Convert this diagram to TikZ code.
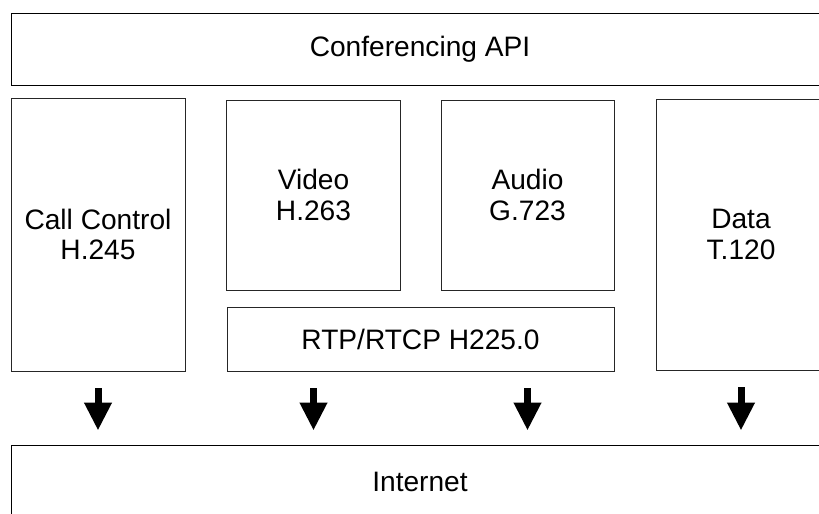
\documentclass[tikz,border=0pt]{standalone}
\usepackage{fontspec}
\setmainfont{Liberation Sans}
\usetikzlibrary{arrows.meta}
\begin{document}
\begin{tikzpicture}[x=0.3mm,y=-0.3mm,
  box/.style={draw=black!85,line width=0.8pt,inner sep=0pt,align=center,
    font=\fontsize{24}{26}\selectfont},
  flow/.style={line width=2.1mm,-{Triangle[length=8.4mm,width=7.8mm]},
    shorten <=5.1mm,shorten >=4.2mm}]
\useasboundingbox (0,0) rectangle (819,514);
\clip (0,0) rectangle (819,514);
\node[box,draw=black,minimum width=245.4mm,minimum height=21.6mm] (api) at (420,49) {Conferencing API};
\node[box,minimum width=52.2mm,minimum height=81.9mm] (call) at (98,234.5) {Call Control\\H.245};
\node[box,minimum width=52.2mm,minimum height=57mm] (video) at (313.5,195) {Video\\H.263};
\node[box,minimum width=51.9mm,minimum height=57mm] (audio) at (527.5,195) {Audio\\G.723};
\node[box,minimum width=51mm,minimum height=81.3mm] (data) at (741,234.5) {Data\\T.120};
\node[box,minimum width=116.1mm,minimum height=19.2mm] (rtp) at (420.5,339) {RTP/RTCP H225.0};
\node[box,draw=black,minimum width=245.4mm,minimum height=22.2mm] (net) at (420,482) {Internet};
% media streams go down to the network
\draw[flow] (call.south) -- (call.south |- net.north);
\draw[flow] (video |- rtp.south) -- (video |- net.north);
\draw[flow] (audio |- rtp.south) -- (audio |- net.north);
\draw[flow] (data.south) -- (data.south |- net.north);
\end{tikzpicture}
\end{document}
